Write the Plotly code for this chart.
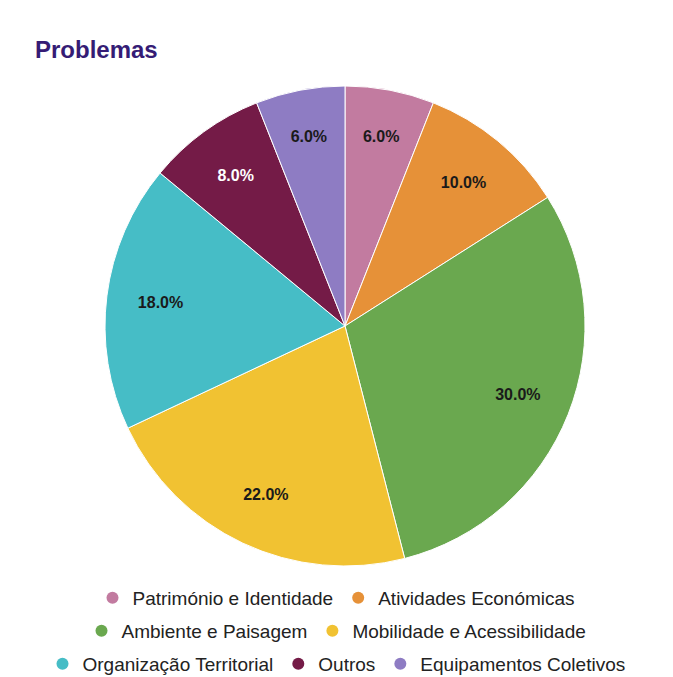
import plotly.graph_objects as go

categories = ["Património e Identidade", "Atividades Económicas", "Ambiente e Paisagem",
              "Mobilidade e Acessibilidade", "Organização Territorial", "Outros",
              "Equipamentos Coletivos"]
values = [6.0, 10.0, 30.0, 22.0, 18.0, 8.0, 6.0]
colors = ["#C27BA0", "#E69138", "#6AA84F", "#F1C232", "#46BDC6", "#741B47", "#8E7CC3"]
label_colors = ["#1a1a1a", "#1a1a1a", "#1a1a1a", "#1a1a1a", "#1a1a1a", "#ffffff", "#1a1a1a"]
legend_rows = ["legend", "legend", "legend2", "legend2", "legend3", "legend3", "legend3"]

W, H = 673, 677
cx, cy = 345, 326


def domain(r):
    return dict(x=[(cx - r) / W, (cx + r) / W], y=[(H - cy - r) / H, (H - cy + r) / H])


fig = go.Figure()
# coloured slices
fig.add_trace(go.Pie(
    labels=categories, values=values, sort=False, direction="clockwise", rotation=0,
    marker=dict(colors=colors, line=dict(color="white", width=1)),
    textinfo="none", showlegend=False, hoverinfo="label+percent", domain=domain(240),
))
# transparent ring carrying the percentage labels further out
fig.add_trace(go.Pie(
    labels=categories, values=values, sort=False, direction="clockwise", rotation=0,
    hole=0.624,
    marker=dict(colors=["rgba(0,0,0,0)"] * len(values), line=dict(width=0)),
    texttemplate="%{percent:.1%}", textposition="inside", insidetextorientation="horizontal",
    textfont=dict(family="Liberation Sans", size=16, weight="bold", color=label_colors),
    showlegend=False, hoverinfo="skip", domain=domain(229),
))

for name, col, lg in zip(categories, colors, legend_rows):
    fig.add_trace(go.Scatter(x=[None], y=[None], mode="markers", name=name,
                             marker=dict(color=col, size=12, symbol="circle"),
                             legend=lg, showlegend=True))

leg_common = dict(orientation="h", xanchor="center", x=0.5, yanchor="middle",
                  font=dict(family="Liberation Sans", size=19, color="#222222"),
                  bgcolor="rgba(0,0,0,0)", itemwidth=30)
fig.update_layout(
    width=W, height=H, margin=dict(l=0, r=0, t=0, b=0, autoexpand=False),
    paper_bgcolor="white", plot_bgcolor="white",
    xaxis=dict(visible=False), yaxis=dict(visible=False),
    title=dict(text="<b>Problemas</b>", x=35 / W, xanchor="left", y=1 - 50 / H, yanchor="middle",
               font=dict(family="Liberation Sans", size=24, color="#351C75")),
    legend=dict(**leg_common, y=1 - 598 / H),
    legend2=dict(**leg_common, y=1 - 631 / H),
    legend3=dict(**leg_common, y=1 - 664 / H),
)
fig.write_html("out.html", config={"displayModeBar": False},
               post_script="document.body.style.margin='0';")
